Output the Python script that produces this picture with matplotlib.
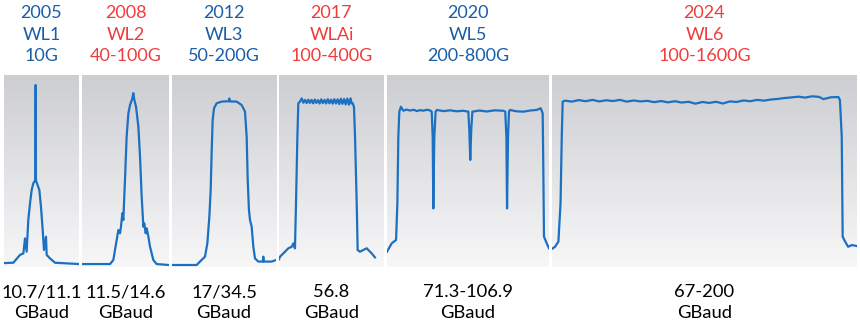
import numpy as np
import matplotlib.pyplot as plt
from matplotlib.colors import LinearSegmentedColormap

# ── dados ──────────────────────────────────────────────────────────────
anos = ["2005", "2008", "2012", "2017", "2020", "2024"]
geracoes = ["WL1", "WL2", "WL3", "WLAi", "WL5", "WL6"]
taxas = ["10G", "40-100G", "50-200G", "100-400G", "200-800G", "100-1600G"]
baud = ["10.7/11.1", "11.5/14.6", "17/34.5", "56.8", "71.3-106.9", "67-200"]
cor_titulo = ["azul", "vermelho", "azul", "vermelho", "azul", "vermelho"]

# espectros (x: 0-100 dentro do painel, y: 0-100 potência relativa)
p1_x = [0, 12.4, 21.3, 25.8, 28, 30.2, 32.4, 34.7, 36.9, 39.1, 41.8, 42.2,
        42.6, 47.1, 49.3, 51.6, 53.3, 56, 56.9, 61.3, 68, 100]
p1_y = [1, 1.2, 5.3, 6.1, 14, 7, 23.7, 32.5, 39.5, 43, 44.7, 94.7,
        44.5, 39.5, 30.7, 18.4, 7.9, 14.9, 5.3, 3.5, 1.2, 0.5]

p2_x = [0, 32.2, 36, 37.9, 39.9, 41.8, 43.7, 44.8, 46.4, 47.5, 49.4, 51.3,
        53.3, 55.2, 57.9, 59, 60.2, 62.1, 64.8, 66.7, 68.6, 70.5, 71.6, 73.2,
        74.3, 76.3, 78.2, 82, 85.8, 100]
p2_y = [0.5, 0.5, 2.6, 7.9, 13.2, 18.4, 16.7, 20.2, 27.2, 23.7, 44.7, 67.5,
        79.8, 84.2, 87.7, 90.4, 86.8, 83.3, 72.8, 57, 36, 20.2, 21.9, 16.7,
        19.3, 14.9, 9.6, 2.6, 0.5, 0]

p3_x = [0, 23.7, 26.9, 31.7, 34, 35.9, 37.2, 38.1, 39.1, 40.4, 42.9, 47.8,
        54.6, 55.1, 55.6, 62.2, 67, 70.2, 71.8, 72.8, 74, 75, 76.6, 78.2,
        79.8, 83, 87.4, 87.8, 88.2, 91, 95.8, 100]
p3_y = [0, 0, 1.8, 4.4, 11.4, 25.4, 39.5, 58.8, 76.3, 82.5, 85.1, 86,
        86.2, 87.6, 86.1, 86, 84.2, 80.7, 67.5, 44.7, 28.9, 23.7, 20.2, 9.6,
        3.5, 1.8, 1.8, 4.4, 1.8, 1.8, 1.8, 2.6]

p4_x = [0, 1, 5.7, 8.9, 12.1, 13.7, 15.2, 16.2, 17.5, 18.4, 20, 21.6,
        23.2, 24.8, 26.3, 27.9, 29.4, 31.0, 32.5, 34.1, 35.6, 37.2, 38.7,
        40.3, 41.8, 43.4, 44.9, 46.5, 48.0, 49.6, 51.1, 52.7, 54.2, 55.8,
        57.3, 58.9, 60.4, 62.0, 63.5, 65.1, 66.6, 68.2, 69.2,
        70.2, 71.4, 72.4, 74, 74.9, 77.1, 80.3, 83.5, 86.7, 88.3, 91.4]
p4_y = [3, 4.4, 7, 8.8, 9.6, 11.4, 8.8, 32.5, 67.5, 85.1, 86, 87.7,
        85.4, 86.9, 85.2, 87.0, 85.3, 86.9, 85.1, 87.1, 85.3, 86.8, 85.0,
        87.2, 85.2, 86.9, 85.0, 87.3, 85.1, 87.0, 84.9, 87.3, 85.0, 87.2,
        84.7, 87.5, 84.8, 87.4, 84.5, 87.6, 84.4, 87.7, 85.0,
        85.1, 83.3, 67.5, 32.5, 7.9, 7, 7.9, 8.8, 7, 6.1, 4]

p5_x = [0, 2.9, 5.6, 6.4, 7, 7.6, 8.6, 10.1, 12, 14.2, 16.5, 18.5, 20.4,
        22.5, 24.5, 26.5, 27.6, 28.2, 28.6, 29.2, 30, 30.7, 34.8, 38.9, 43,
        47.1, 50.2, 50.8, 51.4, 52, 52.7, 57, 61.5, 66.5, 71.8, 73, 73.7,
        74.1, 74.7, 75.3, 75.9, 80, 84.2, 88.3, 92.4, 94.9, 96.1, 96.5,
        96.9, 98.6, 100]
p5_y = [7, 11.4, 13.2, 32.5, 67.5, 80.7, 83.3, 81.2, 81.8, 81.3, 81.7,
        81.0, 81.5, 81.2, 81.7, 81.4, 80.7, 67.5, 29.8, 67.5, 80.7, 81.6,
        81.0, 81.4, 80.9, 81.2, 80.7, 71.1, 55.3, 71.1, 80.7, 81.3, 80.8,
        81.4, 81.2, 80.7, 67.5, 29.8, 67.5, 80.7, 81.6, 80.9, 80.7, 81.3,
        81.6, 82.5, 79.8, 50, 14.9, 11.4, 8.8]

p6_x = [0, 1, 2.1, 2.8, 3.2, 3.5,
        4.3, 6.5, 8.8, 11, 13.3, 15.5, 17.8, 20, 22.3, 24.5, 26.8, 29, 31.3,
        33.5, 35.8, 38, 40.3, 42.5, 44.8, 47, 49.3, 51.5, 53.8, 56, 58.3,
        60.5, 62.8, 65, 67.3, 69.5, 71.8, 74, 76.3, 78.5, 80.8, 83, 85.3,
        87.5, 89, 91.5, 93.9, 94.4,
        95, 95.3, 96.1, 97.1, 98.3, 99.9]
p6_y = [8.5, 9.6, 12.3, 32.5, 67.5, 86,
        86.5, 86.0, 86.8, 86.2, 86.9, 86.1, 86.7, 86.3, 86.9, 86.0, 86.6,
        86.1, 86.4, 85.7, 86.3, 85.6, 86.2, 85.5, 85.9, 84.9, 85.8, 85.3,
        85.9, 85.0, 86.1, 85.8, 86.6, 86.2, 86.9, 86.5, 87.1, 87.4, 87.9,
        88.2, 88.6, 88.1, 88.8, 88.5, 87.3, 88.3, 88.4, 86.8,
        67.5, 14.9, 12.3, 9.6, 10.5, 10]

espectros = [(p1_x, p1_y), (p2_x, p2_y), (p3_x, p3_y),
             (p4_x, p4_y), (p5_x, p5_y), (p6_x, p6_y)]

# ── layout (pixels da figura 860x323) ─────────────────────────────────
W, H = 860, 323
paineis = [(4, 79), (82, 169), (172, 276), (279, 384), (387, 549), (552, 857)]
topo, base = 75, 267

AZUL = "#1a5ea8"
VERMELHO = "#f03c3c"
LINHA = "#1c70c2"
fundo = LinearSegmentedColormap.from_list("fundo", ["#f7f7f8", "#cdced2"])
gradiente = np.linspace(0, 1, 256).reshape(-1, 1)

plt.rcParams['font.family'] = ['Lato', 'DejaVu Sans']
fig = plt.figure(figsize=(W / 100, H / 100), dpi=100)

for i, ((x0, x1), (xs, ys)) in enumerate(zip(paineis, espectros)):
    ax = fig.add_axes([x0 / W, 1 - base / H, (x1 - x0) / W, (base - topo) / H])
    ax.imshow(gradiente, cmap=fundo, aspect="auto", origin="lower",
              extent=[0, 100, -1.05, 100], zorder=0)
    ax.plot(xs, ys, color=LINHA, lw=1.6, zorder=2, solid_joinstyle="round")
    ax.set_xlim(0, 100)
    ax.set_ylim(-1.05, 100)
    ax.axis("off")

    xc = (x0 + x1) / 2 / W
    cor = AZUL if cor_titulo[i] == "azul" else VERMELHO
    for j, txt in enumerate([anos[i], geracoes[i], taxas[i]]):
        fig.text(xc, 1 - (18 + 21.5 * j) / H, txt, color=cor, fontsize=13,
                 ha="center", va="baseline")
    fig.text(xc, 1 - 297 / H, baud[i], color="black", fontsize=13.2,
             ha="center", va="baseline")
    fig.text(xc, 1 - 318 / H, "GBaud", color="black", fontsize=13.2,
             ha="center", va="baseline")

plt.savefig("out.png", dpi=100)
plt.close(fig)
